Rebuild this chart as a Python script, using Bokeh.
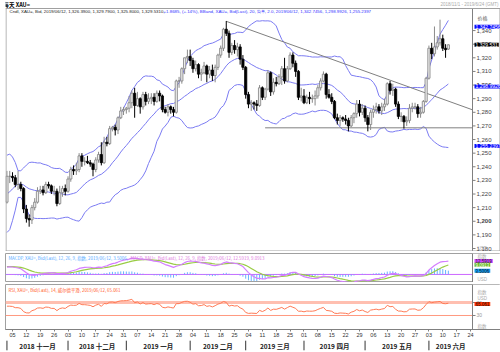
import numpy as np
import pandas as pd
from bokeh.plotting import figure
from bokeh.layouts import column
from bokeh.models import Range1d, FixedTicker, Label, ColumnDataSource, LinearAxis
from bokeh.embed import file_html
from bokeh.resources import INLINE
from bokeh.core.properties import value

# ---------------- data ----------------
# closes before the visible window (Sep 3 - Oct 31 2018), used to warm up the indicators
warmup_close = [1193, 1190, 1197, 1199, 1196, 1194, 1195, 1204, 1201, 1194,
                1199, 1198, 1204, 1207, 1199, 1199, 1201, 1194, 1182, 1191,
                1189, 1206, 1202, 1200, 1203, 1188, 1190, 1194, 1224, 1222,
                1233, 1226, 1222, 1226, 1227, 1222, 1231, 1231, 1232, 1233,
                1228, 1222, 1215]

# daily candles, 2018-11-01 .. 2019-06-12 (trading days)
opens = [
    1214, 1233, 1233, 1232, 1227, 1227, 1224, 1209, 1202, 1201, 1210, 1214, 1222, 1223, 1221, 1227, 1226, 1222, 1222, 1213, 1221, 1224,
    1222, 1231, 1238, 1237, 1238, 1248, 1244, 1244, 1243, 1242, 1238, 1245, 1249, 1243, 1258, 1257, 1268, 1269, 1267, 1276, 1281,
    1282, 1283, 1287, 1294, 1285, 1290, 1284, 1293, 1288, 1290, 1291, 1288, 1294, 1292, 1282, 1280, 1284, 1282, 1280, 1303, 1303, 1312, 1320,
    1321, 1318, 1312, 1315, 1308, 1309, 1314, 1308, 1311, 1307, 1313, 1322, 1327, 1341, 1338, 1324, 1329, 1326, 1328, 1319,
    1313, 1293, 1286, 1287, 1286, 1285, 1298, 1291, 1297, 1309, 1295, 1302, 1301, 1306, 1312, 1303, 1312, 1322, 1316, 1310, 1291,
    1292, 1287, 1291, 1290, 1290, 1292, 1298, 1303, 1308, 1293, 1291, 1288, 1276, 1274, 1276, 1275, 1274, 1270, 1276, 1279, 1286, 1280,
    1283, 1276, 1271, 1280, 1282, 1284, 1281, 1284, 1286, 1301, 1296, 1297, 1286, 1277, 1277, 1273, 1274, 1283, 1284, 1284, 1279, 1280, 1288,
    1305, 1327, 1323, 1328, 1331, 1334, 1327, 1326.39]
highs = [
    1237, 1237, 1236, 1234, 1237, 1229, 1225, 1212, 1205, 1212, 1217, 1225, 1226, 1226, 1229, 1229, 1227, 1226, 1224, 1226, 1226, 1227,
    1233, 1240, 1241, 1243, 1250, 1250, 1247, 1248, 1245, 1243, 1247, 1251, 1258, 1262, 1262, 1270, 1270, 1271, 1277, 1284, 1284,
    1284, 1292, 1296, 1298, 1295, 1291, 1295, 1295, 1294, 1294, 1294, 1296, 1296, 1293, 1284, 1286, 1285, 1284, 1304, 1306, 1313, 1320, 1326,
    1326, 1320, 1318, 1316, 1312, 1317, 1315, 1314, 1315, 1315, 1323, 1329, 1342, 1347, 1340, 1331, 1333, 1331, 1330, 1322,
    1314, 1295, 1289, 1288, 1289, 1300, 1299, 1298, 1311, 1310, 1305, 1306, 1308, 1314, 1320, 1314, 1324, 1324, 1318, 1311, 1298,
    1297, 1293, 1295, 1293, 1296, 1300, 1305, 1310, 1309, 1297, 1294, 1289, 1279, 1278, 1277, 1278, 1276, 1278, 1280, 1289, 1289, 1286,
    1285, 1278, 1282, 1285, 1287, 1286, 1287, 1290, 1302, 1303, 1301, 1298, 1288, 1280, 1278, 1277, 1286, 1287, 1287, 1286, 1284, 1289, 1306,
    1329, 1331, 1343, 1336, 1348, 1337, 1330, 1329.79]
lows = [
    1213, 1228, 1229, 1225, 1223, 1222, 1206, 1199, 1196, 1198, 1208, 1213, 1220, 1219, 1220, 1224, 1220, 1219, 1211, 1212, 1218, 1219,
    1221, 1229, 1234, 1234, 1236, 1240, 1241, 1242, 1240, 1233, 1236, 1243, 1241, 1242, 1255, 1256, 1266, 1263, 1264, 1275, 1278,
    1279, 1280, 1283, 1276, 1284, 1279, 1282, 1285, 1286, 1286, 1285, 1287, 1288, 1280, 1279, 1277, 1279, 1277, 1279, 1298, 1301, 1308, 1316,
    1314, 1309, 1310, 1305, 1303, 1308, 1302, 1305, 1303, 1302, 1311, 1320, 1325, 1336, 1320, 1322, 1323, 1321, 1315, 1311,
    1290, 1283, 1281, 1282, 1281, 1284, 1289, 1289, 1296, 1292, 1293, 1299, 1300, 1300, 1301, 1302, 1311, 1313, 1306, 1289, 1288,
    1286, 1286, 1286, 1287, 1285, 1290, 1296, 1302, 1290, 1290, 1286, 1275, 1271, 1270, 1273, 1271, 1266, 1269, 1272, 1276, 1277, 1278,
    1273, 1266, 1267, 1276, 1279, 1279, 1278, 1281, 1285, 1293, 1292, 1284, 1275, 1273, 1268, 1270, 1272, 1280, 1282, 1276, 1276, 1279, 1287,
    1304, 1319, 1321, 1326, 1329, 1325, 1320, 1325.80]
closes = [
    1233, 1233, 1232, 1227, 1227, 1224, 1209, 1202, 1201, 1210, 1214, 1222, 1223, 1221, 1227, 1226, 1222, 1222, 1213, 1221, 1224, 1222,
    1231, 1238, 1237, 1238, 1248, 1244, 1244, 1243, 1242, 1238, 1245, 1249, 1243, 1258, 1257, 1268, 1269, 1267, 1276, 1281, 1282,
    1283, 1287, 1294, 1285, 1290, 1284, 1293, 1288, 1290, 1291, 1288, 1294, 1292, 1282, 1280, 1284, 1282, 1280, 1303, 1303, 1312, 1320, 1321,
    1318, 1312, 1315, 1308, 1309, 1314, 1308, 1311, 1307, 1313, 1322, 1327, 1341, 1338, 1324, 1329, 1326, 1328, 1319, 1313,
    1293, 1286, 1287, 1286, 1285, 1298, 1291, 1297, 1309, 1295, 1302, 1301, 1306, 1312, 1303, 1312, 1322, 1316, 1310, 1291, 1292,
    1287, 1291, 1290, 1290, 1292, 1298, 1303, 1308, 1293, 1291, 1288, 1276, 1274, 1276, 1275, 1274, 1270, 1276, 1279, 1286, 1280, 1283,
    1276, 1271, 1280, 1282, 1284, 1281, 1284, 1286, 1301, 1296, 1297, 1286, 1277, 1277, 1273, 1274, 1283, 1284, 1284, 1279, 1280, 1288, 1305,
    1327, 1323, 1328, 1331, 1334, 1327, 1326, 1329.531]

# last values shown in the header / on the axis
bb_last = [1342.7456, 1298.9926, 1255.2397]
last_close = 1329.5310
macd_last = [12.5919, 9.0913, 3.5006]
rsi_last = 65.061

# hand-drawn lines
trend_dates = ["2019-02-20", "2019-06-25"]
trend_prices = [1346.8, 1281.6]
support_dates = ["2019-03-12", "2019-06-25"]
support_prices = [1268.6, 1268.6]

price_ticks = list(range(1180, 1350, 10))
rsi_levels = [70, 30]
cn_months = ["一月", "二月", "三月", "四月", "五月", "六月",
             "七月", "八月", "九月", "十月", "十一月", "十二月"]

title_text = "每天 XAU="
range_text = "2018/11/1 - 2019/6/24 (GMT)"
header_black = "Cndl, XAU=, Bid, 2019/06/12, 1,326.3900, 1,329.7900, 1,325.8000, 1,329.5310, "
header_blue = "+1.8685, (+.14%), BBand, XAU=, Bid(Last), 20, 简单, 2.0, 2019/06/12, 1,342.7456, 1,298.9926, 1,255.2397"
macd_head1 = "MACDP, XAU=, Bid(Last), 12, 26, 9, 指数, 2019/06/12, 3.5006,"
macd_head2 = "MACD, XAU=, Bid(Last), 12, 26, 9, 指数, 2019/06/12, 12.5919, 9.0913"
rsi_head = "RSI, XAU=, Bid(Last), 14, 威尔德平滑, 2019/06/12, 65.061"

# ---------------- calendar / positions ----------------
cal = pd.bdate_range("2018-11-01", "2019-06-28")
pos = np.arange(len(cal)) - 2.0          # 2018-11-05 -> 0
date_pos = {d: p for d, p in zip(cal, pos)}
n = len(closes)
xv = pos[:n]

FL = 5                      # frame left (px)
FW = 495                    # frame width (px) incl. right value strip
XR0 = -2.52
XD1 = 165.7                 # data edge / axis line
PXU = 467 / (XD1 - XR0)     # px per trading day
XR1 = XR0 + FW / PXU

Y0 = 1177.8
Y1 = 1356.2 + 8 * (1356.2 - 1177.8) / 243   # frame reaches the top of the page
M0, M1 = -7.5, 19.5
R0, R1 = -13.1, 125.4


def xpx(px):
    return XR0 + (px - FL) / PXU


# ---------------- indicators ----------------
allc = pd.Series(warmup_close + closes, dtype=float)
nw = len(warmup_close)
sma = allc.rolling(20).mean()
sd = allc.rolling(20).std(ddof=0)
bb_up = (sma + 2 * sd).values[nw:]
bb_mid = sma.values[nw:]
bb_lo = (sma - 2 * sd).values[nw:]
ema12 = allc.ewm(span=12, adjust=False).mean()
ema26 = allc.ewm(span=26, adjust=False).mean()
macd = ema12 - ema26
sig = macd.ewm(span=9, adjust=False).mean()
hist = (macd - sig).values[nw:]
macd_v = macd.values[nw:]
sig_v = sig.values[nw:]
dif = allc.diff()
gain = dif.clip(lower=0)
loss = -dif.clip(upper=0)
ag = gain.ewm(alpha=1 / 14, adjust=False).mean()
al = loss.ewm(alpha=1 / 14, adjust=False).mean()
rsi = (100 - 100 / (1 + ag / al)).values[nw:]

o = np.array(opens); h = np.array(highs); l = np.array(lows); c = np.array(closes)
up = c >= o
src_up = ColumnDataSource(dict(x=xv[up], o=o[up], c=c[up], h=h[up], l=l[up]))
src_dn = ColumnDataSource(dict(x=xv[~up], o=o[~up], c=c[~up], h=h[~up], l=l[~up]))

LAT = "Liberation Sans"
CJK = "Noto Sans CJK SC"
BORDER = "#a0a0a0"


class Panel:
    def __init__(self, ftop, fh, y0, y1, top_border, outline=True):
        self.ftop, self.fh, self.y0, self.y1 = ftop, fh, y0, y1
        f = figure(frame_width=FW, frame_height=fh, x_range=Range1d(XR0, XR1),
                   y_range=Range1d(y0, y1), output_backend="svg", toolbar_location=None,
                   x_axis_location=None, y_axis_location=None,
                   min_border_left=FL, min_border_right=0,
                   min_border_top=top_border, min_border_bottom=0)
        f.grid.visible = False
        f.outline_line_color = BORDER if outline else None
        f.background_fill_color = "white"
        f.border_fill_color = "white"
        self.fig = f

    def py(self, py):
        # absolute pixel row -> value
        return self.y1 - (py - self.ftop) * (self.y1 - self.y0) / self.fh

    def lab(self, px, py_abs, text, size, color, font=LAT, align="left", bold=False):
        self.fig.add_layout(Label(x=xpx(px), y=self.py(py_abs), text=text, text_font_size=size,
                                  text_color=color, text_font=font, text_align=align,
                                  text_baseline="middle",
                                  text_font_style="bold" if bold else "normal"))

    def vlab(self, v, text, size, color, bg):
        self.fig.add_layout(Label(x=xpx(474), y=v, text=text, text_font_size=size,
                                  text_color=color, text_font=LAT, text_align="left",
                                  text_baseline="middle", background_fill_color=bg,
                                  padding=(1, 0)))

    def value_strip(self, top_v=None):
        f = self.fig
        tv = self.y1 if top_v is None else top_v
        f.quad(left=[XD1], right=[XR1], bottom=[self.y0], top=[tv],
               fill_color="white", line_color=None)
        f.line([XD1, XD1], [self.y0, tv], color="#808080", line_width=1)

    def ticks(self, vals, texts, size, color, styles=None):
        f = self.fig
        k = len(vals)
        f.segment([XD1] * k, vals, [xpx(475)] * k, vals, color="#808080", line_width=1)
        src = ColumnDataSource(dict(x=[xpx(476)] * k, y=vals, t=texts,
                                    st=styles if styles is not None else ["normal"] * k))
        f.text("x", "y", text="t", source=src, text_font=value(LAT), text_font_size=size,
               text_color=color, text_baseline="middle", text_align="left",
               text_font_style="st")


# ---------------- main price panel (frame from the page top) ----------------
P = Panel(0, 251, Y0, Y1, 0, outline=False)
p = P.fig
band_col = "#7b7bf2"
p.line(xv, bb_up, color=band_col, line_width=1)
p.line(xv, bb_mid, color=band_col, line_width=1)
p.line(xv, bb_lo, color=band_col, line_width=1)

tx = [date_pos[pd.Timestamp(d)] for d in trend_dates]
sx = [date_pos[pd.Timestamp(d)] for d in support_dates]
p.line(tx, trend_prices, color="#808080", line_width=1)
p.line(sx, support_prices, color="#808080", line_width=1)

p.segment("x", "h", "x", "l", source=src_up, color="#8a8a8a", line_width=1)
p.segment("x", "h", "x", "l", source=src_dn, color="#000000", line_width=1)
p.vbar(x="x", width=0.8, top="c", bottom="o", source=src_up,
       fill_color="#ececec", line_color="#808080", line_width=0.8)
p.vbar(x="x", width=0.8, top="o", bottom="c", source=src_dn,
       fill_color="#000000", line_color="#000000", line_width=0.8)

ytop = P.py(8)
P.value_strip(top_v=ytop)
# panel border (top at row 8, left, bottom, right)
p.line([XR0, XR1], [ytop, ytop], color=BORDER, line_width=1)
p.line([xpx(5.5), xpx(5.5)], [Y0, ytop], color=BORDER, line_width=1)
p.line([XR0, XR1], [P.py(250.5), P.py(250.5)], color=BORDER, line_width=1)
p.line([xpx(499.5), xpx(499.5)], [Y0, ytop], color=BORDER, line_width=1)

P.ticks(price_ticks, [f"{t:,}" for t in price_ticks], "6px", "#444444",
        styles=["bold" if t % 100 == 0 else "normal" for t in price_ticks])
P.lab(3, 4.2, title_text, "5.5px", "#000000", font=CJK, bold=True)
P.lab(498, 4.2, range_text, "4.5px", "#aaaaaa", align="right")
P.lab(9, 11, header_black, "4.4px", "#222222")
P.lab(163, 11, header_blue, "4.4px", "#3333ff")
P.lab(477, 17, "价格", "5px", "#555555", font=CJK)
P.lab(477, 247.5, "USD", "4.5px", "#aaaaaa")
for v in bb_last:
    P.vlab(v, f"{v:,.4f}", "5px", "#ffffff", "#0a0aff")
P.vlab(last_close, f"{last_close:,.3f}", "5px", "#ffffff", "#000000")

# ---------------- MACD panel ----------------
M = Panel(253, 29, M0, M1, 2)
m = M.fig
m.line([XR0, XD1], [0, 0], color="#cc66ff", line_width=1)
m.segment(xv, np.zeros(n), xv, hist, color="#66b3ff", line_width=1)
m.line(xv, sig_v, color="#99cc44", line_width=1.2)
m.line(xv, macd_v, color="#d47dff", line_width=1.2)
M.value_strip()
M.lab(8, 257.5, macd_head1, "4.4px", "#55aaff", font=CJK)
M.lab(130, 257.5, macd_head2, "4.4px", "#dd77dd", font=CJK)
M.lab(477, 255.5, "指数", "4.5px", "#aaaaaa", font=CJK)
M.lab(477, 278.5, "USD", "4.5px", "#aaaaaa")
M.vlab(macd_last[0], f"{macd_last[0]:.4f}", "4.5px", "#222222", "#cc44ff")
M.vlab(macd_last[1], f"{macd_last[1]:.4f}", "4.5px", "#ffffff", "#66bb22")
M.vlab(macd_last[2], f"{macd_last[2]:.4f}", "4.5px", "#111111", "#1199ee")

# ---------------- RSI panel ----------------
R = Panel(284, 45, R0, R1, 2)
r = R.fig
r.line([XR0, XD1], [rsi_levels[0]] * 2, color="#ffbfb0", line_width=3)
r.line([XR0, XD1], [rsi_levels[1]] * 2, color="#ff9980", line_width=1)
r.line(xv, rsi, color="#ff7a55", line_width=1)
R.value_strip()
R.ticks(rsi_levels, [str(v) for v in rsi_levels], "5px", "#999999")
R.lab(8, 289, rsi_head, "4.4px", "#ff5a2a", font=CJK)
R.lab(477, 291, "指数", "4.5px", "#aaaaaa", font=CJK)
R.lab(477, 297.5, "USD", "4.5px", "#aaaaaa")
R.lab(477, 325, "指数", "4.5px", "#aaaaaa", font=CJK)
R.vlab(rsi_last, f"{rsi_last:.3f}", "4.5px", "#111111", "#ff3300")

# date axis (weekly ticks on Mondays)
mondays = [(p_, d) for d, p_ in zip(cal, pos) if d.dayofweek == 0 and p_ <= XD1]
xa = LinearAxis(ticker=FixedTicker(ticks=[q for q, _ in mondays]),
                major_label_overrides={float(q): d.strftime("%d") for q, d in mondays},
                major_label_text_font_size="5.5px", major_label_text_font=LAT,
                major_label_text_color="#333333", major_tick_out=2, major_tick_in=0,
                minor_tick_line_color=None, axis_line_color="#808080",
                major_tick_line_color="#808080", major_label_standoff=1)
r.add_layout(xa, "below")

# ---------------- month strip ----------------
s = figure(frame_width=FW, frame_height=12, x_range=r.x_range, y_range=Range1d(0, 1),
           output_backend="svg", toolbar_location=None, x_axis_location=None,
           y_axis_location=None, min_border_left=FL, min_border_right=0,
           min_border_top=0, min_border_bottom=0)
s.grid.visible = False
s.outline_line_color = None
starts = []
names = []
for i, d in enumerate(cal[:n]):
    if i == 0 or d.month != cal[i - 1].month:
        starts.append(pos[i])
        names.append(f"{d.year} {cn_months[d.month - 1]}")
ends = starts[1:] + [XD1]
centers = [(a + b) / 2 for a, b in zip(starts, ends)]
s.segment(starts, [0.1] * len(starts), starts, [0.9] * len(starts), color="#333333", line_width=1)
s.text(centers, [0.5] * len(centers), text=names, text_font=value(CJK), text_font_size="6.5px",
       text_font_style="bold", text_align="center", text_baseline="middle", text_color="#222222")

layout = column(p, m, r, s, spacing=0)
open("out.html", "w").write(file_html(layout, INLINE))
